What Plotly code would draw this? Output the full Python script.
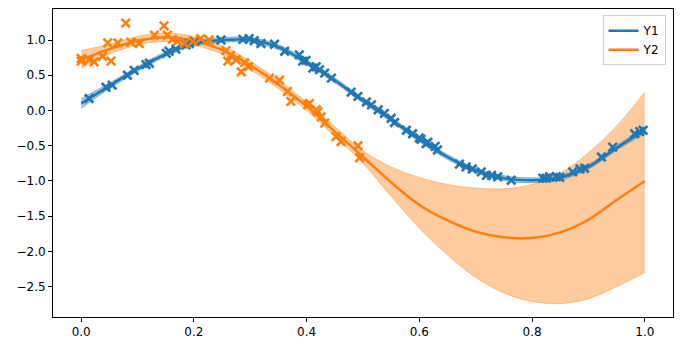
import plotly.graph_objects as go

# ---- observed data ----
x1_obs = [0.014, 0.044, 0.055, 0.082, 0.094, 0.115, 0.121, 0.151, 0.156, 0.168, 0.186, 0.192, 0.201,
          0.248, 0.287, 0.298, 0.307, 0.319, 0.343, 0.361, 0.387, 0.393, 0.399, 0.411, 0.417, 0.423,
          0.432, 0.444, 0.479, 0.491, 0.506, 0.515, 0.527, 0.538, 0.550, 0.556, 0.577, 0.588, 0.600,
          0.603, 0.612, 0.615, 0.628, 0.632, 0.671, 0.683, 0.694, 0.710, 0.719, 0.728, 0.739, 0.763,
          0.819, 0.825, 0.831, 0.843, 0.849, 0.872, 0.885, 0.893, 0.923, 0.943, 0.982, 0.991, 0.997]
y1_obs = [0.17, 0.33, 0.36, 0.50, 0.57, 0.65, 0.67, 0.81, 0.84, 0.87, 0.93, 0.95, 0.98,
          1.00, 1.01, 1.02, 0.99, 0.95, 0.94, 0.84, 0.79, 0.70, 0.71, 0.60, 0.62, 0.58,
          0.53, 0.46, 0.26, 0.20, 0.12, 0.08, 0.01, -0.04, -0.11, -0.17, -0.28, -0.33, -0.39,
          -0.41, -0.47, -0.45, -0.51, -0.56, -0.76, -0.80, -0.83, -0.87, -0.92, -0.92, -0.94, -0.99,
          -0.96, -0.96, -0.94, -0.94, -0.95, -0.87, -0.83, -0.82, -0.66, -0.52, -0.33, -0.30, -0.28]

x2_obs = [0.000, 0.000, 0.014, 0.023, 0.038, 0.047, 0.053, 0.065, 0.079, 0.088, 0.103, 0.130, 0.147,
          0.153, 0.162, 0.171, 0.183, 0.198, 0.212, 0.227, 0.257, 0.260, 0.265, 0.275, 0.284, 0.290,
          0.297, 0.334, 0.352, 0.366, 0.372, 0.402, 0.405, 0.417, 0.420, 0.426, 0.432, 0.452, 0.461,
          0.491, 0.494]
y2_obs = [0.74, 0.70, 0.72, 0.69, 0.77, 0.96, 0.70, 0.96, 1.24, 0.97, 0.95, 1.07, 1.20,
          1.07, 1.01, 0.98, 0.95, 0.98, 1.02, 1.00, 0.85, 0.70, 0.78, 0.72, 0.55, 0.68,
          0.62, 0.46, 0.43, 0.27, 0.13, 0.08, 0.10, 0.01, -0.02, -0.09, -0.18, -0.37, -0.44,
          -0.50, -0.67]

# ---- predictive mean and confidence band ----
x_grid = [0.00, 0.05, 0.10, 0.15, 0.20, 0.25, 0.30, 0.35, 0.40, 0.45, 0.50,
          0.55, 0.60, 0.65, 0.70, 0.75, 0.80, 0.85, 0.90, 0.95, 1.00]

y1_mean = [0.10, 0.35, 0.59, 0.80, 0.95, 1.00, 1.00, 0.90, 0.68, 0.43, 0.14,
           -0.13, -0.41, -0.66, -0.85, -0.96, -0.99, -0.95, -0.80, -0.53, -0.28]
y1_lower = [0.03, 0.31, 0.555, 0.765, 0.915, 0.965, 0.965, 0.865, 0.645, 0.395, 0.105,
            -0.165, -0.445, -0.695, -0.885, -0.995, -1.025, -0.985, -0.835, -0.565, -0.325]
y1_upper = [0.17, 0.39, 0.625, 0.835, 0.985, 1.035, 1.035, 0.935, 0.715, 0.465, 0.175,
            -0.095, -0.375, -0.625, -0.815, -0.925, -0.955, -0.915, -0.765, -0.495, -0.235]

y2_mean = [0.72, 0.87, 0.99, 1.04, 0.99, 0.86, 0.64, 0.37, 0.06, -0.30, -0.66,
           -1.02, -1.34, -1.56, -1.72, -1.80, -1.81, -1.73, -1.55, -1.27, -1.00]
y2_lower = [0.60, 0.80, 0.93, 0.98, 0.93, 0.80, 0.58, 0.31, 0.00, -0.37, -0.75,
            -1.22, -1.67, -2.05, -2.37, -2.59, -2.71, -2.74, -2.67, -2.50, -2.30]
y2_upper = [0.85, 0.94, 1.05, 1.10, 1.05, 0.92, 0.70, 0.43, 0.12, -0.23, -0.57,
            -0.80, -0.95, -1.05, -1.10, -1.11, -1.05, -0.89, -0.60, -0.22, 0.26]

x_ticks = [0.0, 0.2, 0.4, 0.6, 0.8, 1.0]
y_ticks = [1.0, 0.5, 0.0, -0.5, -1.0, -1.5, -2.0, -2.5]

BLUE = "#1f77b4"
ORANGE = "#ff7f0e"
BLUE_A = "rgba(31,119,180,0.4)"
ORANGE_A = "rgba(255,127,14,0.4)"

fig = go.Figure()

def band(xs, lo, hi, col):
    fig.add_trace(go.Scatter(x=xs, y=hi, mode="lines", line=dict(color=col, width=1, shape="spline"),
                             showlegend=False, hoverinfo="skip"))
    fig.add_trace(go.Scatter(x=xs, y=lo, mode="lines", line=dict(color=col, width=1, shape="spline"),
                             fill="tonexty", fillcolor=col, showlegend=False, hoverinfo="skip"))

band(x_grid, y2_lower, y2_upper, ORANGE_A)
band(x_grid, y1_lower, y1_upper, BLUE_A)

fig.add_trace(go.Scatter(x=x_grid, y=y2_mean, mode="lines", name="Y2",
                         line=dict(color=ORANGE, width=2.5, shape="spline")))
fig.add_trace(go.Scatter(x=x_grid, y=y1_mean, mode="lines", name="Y1",
                         line=dict(color=BLUE, width=2.5, shape="spline")))

fig.add_trace(go.Scatter(x=x1_obs, y=y1_obs, mode="markers", showlegend=False,
                         marker=dict(symbol="x-thin", size=8.5, color=BLUE, line=dict(width=2.6, color=BLUE))))
fig.add_trace(go.Scatter(x=x2_obs, y=y2_obs, mode="markers", showlegend=False,
                         marker=dict(symbol="x-thin", size=8.5, color=ORANGE, line=dict(width=2.6, color=ORANGE))))

axis_common = dict(showline=True, linecolor="black", linewidth=1, mirror=True,
                   ticks="outside", ticklen=4, tickcolor="black", tickwidth=1,
                   showgrid=False, zeroline=False,
                   tickfont=dict(family="DejaVu Sans", size=12, color="black"))

fig.update_layout(
    width=683, height=351,
    margin=dict(l=53, r=10, t=9, b=34),
    plot_bgcolor="white", paper_bgcolor="white",
    xaxis=dict(range=[-0.05, 1.05], tickvals=x_ticks, tickformat=".1f", **axis_common),
    yaxis=dict(range=[-2.93, 1.44], tickvals=y_ticks, tickformat=".1f", **axis_common),
    legend=dict(x=0.988, y=0.98, xanchor="right", yanchor="top", traceorder="reversed",
                bgcolor="rgba(255,255,255,0.8)", bordercolor="#d0d0d0", borderwidth=1,
                font=dict(family="DejaVu Sans", size=12, color="black")),
    showlegend=True,
)

fig.write_html("out.html")
